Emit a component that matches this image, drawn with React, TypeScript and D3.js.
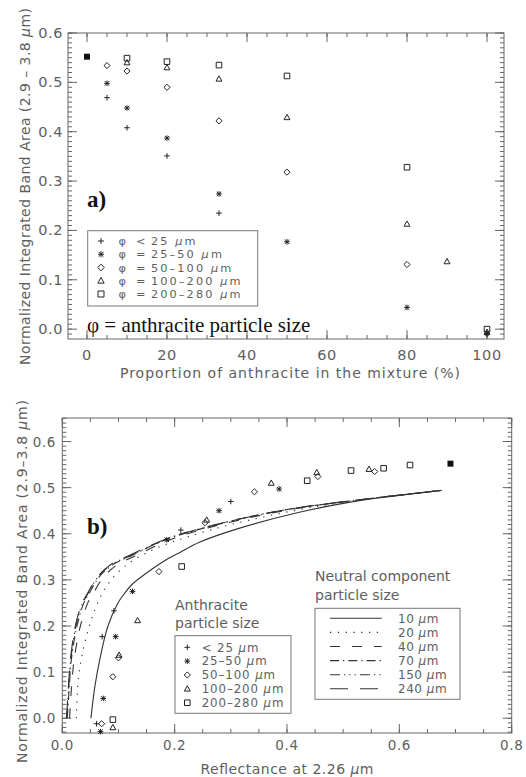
import React from "react";
import * as d3 from "d3";

const W = 526;
const H = 777;

// ---- panel a: band area vs proportion of anthracite (%)
const aPure = [[0, 0.552]];
const aPlus = [[5, 0.469], [10, 0.408], [20, 0.351], [33, 0.235], [100, -0.01]];
const aStar = [[5, 0.498], [10, 0.448], [20, 0.387], [33, 0.274], [50, 0.177], [80, 0.044], [100, -0.009]];
const aDiamond = [[5, 0.534], [10, 0.523], [20, 0.49], [33, 0.422], [50, 0.318], [80, 0.131]];
const aTriangle = [[10, 0.54], [20, 0.53], [33, 0.507], [50, 0.429], [80, 0.213], [90, 0.137], [100, -0.006]];
const aSquare = [[10, 0.549], [20, 0.542], [33, 0.535], [50, 0.513], [80, 0.328], [100, 0.0]];

const aXTicks = [0, 20, 40, 60, 80, 100];
const aYTicks = [0, 0.1, 0.2, 0.3, 0.4, 0.5, 0.6];
const aLegend = [
  { sym: "plus", op: "<", val: "25" },
  { sym: "star", op: "=", val: "25\u201350" },
  { sym: "diamond", op: "=", val: "50\u2013100" },
  { sym: "triangle", op: "=", val: "100\u2013200" },
  { sym: "square", op: "=", val: "200\u2013280" },
];

// ---- panel b: band area vs reflectance at 2.26 um
const bPure = [[0.691, 0.552]];
const bPlus = [[0.3, 0.47], [0.211, 0.408], [0.092, 0.233], [0.071, 0.177], [0.061, -0.012]];
const bStar = [[0.386, 0.497], [0.279, 0.45], [0.186, 0.387], [0.125, 0.275], [0.095, 0.177], [0.073, 0.043], [0.068, -0.029]];
const bDiamond = [[0.556, 0.535], [0.455, 0.524], [0.342, 0.491], [0.254, 0.424], [0.172, 0.318], [0.1, 0.131], [0.09, 0.09], [0.07, -0.012]];
const bTriangle = [[0.546, 0.54], [0.453, 0.533], [0.372, 0.51], [0.257, 0.43], [0.134, 0.212], [0.101, 0.137], [0.09, -0.02]];
const bSquare = [[0.619, 0.549], [0.572, 0.542], [0.514, 0.537], [0.436, 0.515], [0.2125, 0.329], [0.09, -0.003]];

// model curves, neutral component particle size
const c10 = [[0.051, 0.0], [0.058, 0.069], [0.0665, 0.126], [0.081, 0.199], [0.099, 0.25], [0.111, 0.271], [0.124, 0.29], [0.15, 0.315], [0.18, 0.34], [0.21, 0.36], [0.245, 0.382], [0.31, 0.41], [0.42, 0.446], [0.51, 0.468], [0.6, 0.483], [0.675, 0.494]];
const c20 = [[0.025, 0.0], [0.029, 0.09], [0.04, 0.163], [0.058, 0.235], [0.078, 0.285], [0.102, 0.32], [0.13, 0.345], [0.17, 0.37], [0.22, 0.392], [0.3, 0.42], [0.42, 0.452], [0.51, 0.47], [0.6, 0.484], [0.675, 0.494]];
const c40 = [[0.013, 0.0], [0.016, 0.06], [0.021, 0.126], [0.032, 0.199], [0.045, 0.249], [0.055, 0.271], [0.074, 0.307], [0.098, 0.333], [0.13, 0.352], [0.19, 0.386], [0.245, 0.408], [0.334, 0.435], [0.423, 0.456], [0.512, 0.471], [0.601, 0.484], [0.675, 0.494]];
const c70 = [[0.009, 0.0], [0.012, 0.06], [0.016, 0.126], [0.026, 0.199], [0.038, 0.249], [0.048, 0.271], [0.066, 0.307], [0.09, 0.333], [0.122, 0.352], [0.186, 0.388], [0.245, 0.41], [0.334, 0.437], [0.423, 0.457], [0.512, 0.471], [0.601, 0.484], [0.675, 0.494]];
const c150 = [[0.008, 0.0], [0.011, 0.06], [0.015, 0.126], [0.024, 0.199], [0.036, 0.249], [0.046, 0.271], [0.064, 0.307], [0.087, 0.333], [0.12, 0.352], [0.186, 0.389], [0.245, 0.411], [0.334, 0.437], [0.423, 0.457], [0.512, 0.471], [0.601, 0.484], [0.675, 0.494]];
const c240 = [[0.0075, 0.0], [0.0105, 0.06], [0.0145, 0.126], [0.023, 0.199], [0.035, 0.249], [0.045, 0.271], [0.063, 0.307], [0.086, 0.333], [0.119, 0.353], [0.186, 0.389], [0.245, 0.411], [0.334, 0.437], [0.423, 0.457], [0.512, 0.471], [0.601, 0.484], [0.675, 0.494]];

const bXTicks = [0, 0.2, 0.4, 0.6, 0.8];
const bYTicks = [0, 0.1, 0.2, 0.3, 0.4, 0.5, 0.6];
const bLegend = [
  { sym: "plus", label: "< 25" },
  { sym: "star", label: "25\u201350" },
  { sym: "diamond", label: "50\u2013100" },
  { sym: "triangle", label: "100\u2013200" },
  { sym: "square", label: "200\u2013280" },
];
const curveLegend = [
  { label: "10", data: c10, dash: "none" },
  { label: "20", data: c20, dash: "1.3,6.5" },
  { label: "40", data: c40, dash: "10,12" },
  { label: "70", data: c70, dash: "9,4,1.3,4" },
  { label: "150", data: c150, dash: "10,4,1.3,4,1.3,4,1.3,4" },
  { label: "240", data: c240, dash: "18,12" },
];

const GRAY = "#5e5e5e";
const INK = "#222";
const FONT = "DejaVu Sans, sans-serif";

function symPath(type: string, x: number, y: number, s: number) {
  if (type === "plus") return `M${x - s},${y}H${x + s}M${x},${y - s}V${y + s}`;
  if (type === "star") {
    const d = s * 0.8;
    return `M${x - s},${y}H${x + s}M${x},${y - s}V${y + s}M${x - d},${y - d}L${x + d},${y + d}M${x - d},${y + d}L${x + d},${y - d}`;
  }
  if (type === "diamond") return `M${x},${y - s * 1.1}L${x + s * 1.1},${y}L${x},${y + s * 1.1}L${x - s * 1.1},${y}Z`;
  if (type === "triangle") return `M${x},${y - s * 1.1}L${x + s * 1.05},${y + s * 0.8}L${x - s * 1.05},${y + s * 0.8}Z`;
  return `M${x - s},${y - s}H${x + s}V${y + s}H${x - s}Z`;
}

function Frame({ x, y, xMinor, yMinor, xTicks, yTicks, fmtX, tickFont, xLabelY, yLabelX }: any) {
  const [x0, x1] = x.range();
  const [y0, y1] = y.range(); // y0 bottom, y1 top
  const els: any[] = [];
  xMinor.forEach((v: number, i: number) => {
    const px = x(v);
    els.push(<line key={"xm" + i} x1={px} x2={px} y1={y0} y2={y0 - 4} />);
    els.push(<line key={"xmt" + i} x1={px} x2={px} y1={y1} y2={y1 + 4} />);
  });
  xTicks.forEach((v: number, i: number) => {
    const px = x(v);
    els.push(<line key={"xM" + i} x1={px} x2={px} y1={y0} y2={y0 - 9} />);
    els.push(<line key={"xMt" + i} x1={px} x2={px} y1={y1} y2={y1 + 9} />);
  });
  yMinor.forEach((v: number, i: number) => {
    const py = y(v);
    els.push(<line key={"ym" + i} x1={x0} x2={x0 + 4} y1={py} y2={py} />);
    els.push(<line key={"ymr" + i} x1={x1} x2={x1 - 4} y1={py} y2={py} />);
  });
  yTicks.forEach((v: number, i: number) => {
    const py = y(v);
    els.push(<line key={"yM" + i} x1={x0} x2={x0 + 9} y1={py} y2={py} />);
    els.push(<line key={"yMr" + i} x1={x1} x2={x1 - 9} y1={py} y2={py} />);
  });
  return (
    <g>
      <g stroke="#666" strokeWidth={1}>
        <rect x={x0} y={y1} width={x1 - x0} height={y0 - y1} fill="none" />
        {els}
      </g>
      <g fill={GRAY} fontFamily={FONT} fontSize={tickFont} letterSpacing={0.6}>
        {xTicks.map((v: number, i: number) => (
          <text key={"xl" + i} x={x(v)} y={xLabelY} textAnchor="middle">{fmtX(v)}</text>
        ))}
        {yTicks.map((v: number, i: number) => (
          <text key={"yl" + i} x={yLabelX} y={y(v) + 5} textAnchor="end">{d3.format(".1f")(v)}</text>
        ))}
      </g>
    </g>
  );
}

function Marks({ data, sym, x, y, s }: any) {
  return (
    <g fill="none" stroke={INK} strokeWidth={1}>
      {data.map((d: number[], i: number) => (
        <path key={i} d={symPath(sym, x(d[0]), y(d[1]), s)} />
      ))}
    </g>
  );
}

const Mu = () => <tspan fontStyle="italic">μ</tspan>;

export default function App() {
  // panel a scales
  const xa = d3.scaleLinear().domain([-4.75, 104.25]).range([68, 504]);
  const ya = d3.scaleLinear().domain([-0.02, 0.6]).range([339, 33]);
  // panel b scales
  const xb = d3.scaleLinear().domain([0, 0.8]).range([62.3, 511.7]);
  const yb = d3.scaleLinear().domain([-0.032, 0.651]).range([733, 418]);

  const line = d3
    .line<number[]>()
    .x((d) => xb(d[0]))
    .y((d) => yb(d[1]))
    .curve(d3.curveCatmullRom.alpha(0.5));

  const aSeries = [
    { data: aPlus, sym: "plus" },
    { data: aStar, sym: "star" },
    { data: aDiamond, sym: "diamond" },
    { data: aTriangle, sym: "triangle" },
    { data: aSquare, sym: "square" },
  ];
  const bSeries = [
    { data: bPlus, sym: "plus" },
    { data: bStar, sym: "star" },
    { data: bDiamond, sym: "diamond" },
    { data: bTriangle, sym: "triangle" },
    { data: bSquare, sym: "square" },
  ];

  const legARow = (i: number) => 241 + i * 13.25;
  const legBRow = (i: number) => 647.3 + i * 13.85;
  const legCRow = (i: number) => 618.3 + i * 14.1;

  return (
    <svg width={W} height={H} style={{ position: "absolute", left: 0, top: 0, background: "#fff" }}>
      <rect width={W} height={H} fill="#fff" />

      {/* ---------- panel a ---------- */}
      <Frame
        x={xa}
        y={ya}
        xMinor={d3.range(0, 101, 5)}
        yMinor={d3.range(-0.01, 0.6001, 0.01)}
        xTicks={aXTicks}
        yTicks={aYTicks}
        fmtX={(v: number) => String(v)}
        tickFont={14.5}
        xLabelY={360}
        yLabelX={63}
      />
      <text x={290} y={378} textAnchor="middle" fill={GRAY} fontFamily={FONT} fontSize={14} textLength={340}>
        Proportion of anthracite in the mixture (%)
      </text>
      <text
        transform="translate(30,186.5) rotate(-90)"
        textAnchor="middle"
        fill={GRAY}
        fontFamily={FONT}
        fontSize={14}
        textLength={357}
      >
        Normalized Integrated Band Area  (2.9 – 3.8 <Mu />m)
      </text>
      {aSeries.map((s, i) => (
        <Marks key={i} data={s.data} sym={s.sym} x={xa} y={ya} s={2.8} />
      ))}
      {aPure.map((d, i) => (
        <rect key={i} x={xa(d[0]) - 3} y={ya(d[1]) - 3} width={6} height={6} fill="#111" />
      ))}
      <text x={87} y={207} fontFamily="Liberation Serif, serif" fontWeight="bold" fontSize={23} fill="#111">
        a)
      </text>
      <rect x={87.7} y={230.7} width={170} height={75.3} fill="#fff" stroke="#777" strokeWidth={1} />
      {aLegend.map((l, i) => (
        <g key={i} fill={GRAY} fontFamily={FONT} fontSize={11.3}>
          <path d={symPath(l.sym, 101, legARow(i), 3)} fill="none" stroke={INK} strokeWidth={1} />
          <text x={118.5} y={legARow(i) + 4}>φ</text>
          <text x={136} y={legARow(i) + 4}>{l.op}</text>
          <text x={151} y={legARow(i) + 4} letterSpacing={2.1}>
            {l.val} <Mu />m
          </text>
        </g>
      ))}
      <text x={87} y={332} fontFamily="Liberation Serif, serif" fontSize={21} fill="#111">
        φ = anthracite particle size
      </text>

      {/* ---------- panel b ---------- */}
      <Frame
        x={xb}
        y={yb}
        xMinor={d3.range(0, 0.8001, 0.05)}
        yMinor={d3.range(-0.03, 0.6501, 0.01)}
        xTicks={bXTicks}
        yTicks={bYTicks}
        fmtX={d3.format(".1f")}
        tickFont={13.5}
        xLabelY={750}
        yLabelX={56}
      />
      <text x={287} y={774} textAnchor="middle" fill={GRAY} fontFamily={FONT} fontSize={14} textLength={173}>
        Reflectance at 2.26 <Mu />m
      </text>
      <text
        transform="translate(27,581.5) rotate(-90)"
        textAnchor="middle"
        fill={GRAY}
        fontFamily={FONT}
        fontSize={14}
        textLength={363}
      >
        Normalized Integrated Band Area (2.9–3.8 <Mu />m)
      </text>

      <g fill="none" stroke="#333" strokeWidth={1.1}>
        {curveLegend.map((c, i) => (
          <path key={i} d={line(c.data as number[][]) || ""} strokeDasharray={c.dash} />
        ))}
      </g>
      {bSeries.map((s, i) => (
        <Marks key={i} data={s.data} sym={s.sym} x={xb} y={yb} s={2.8} />
      ))}
      {bPure.map((d, i) => (
        <rect key={i} x={xb(d[0]) - 3} y={yb(d[1]) - 3} width={6} height={6} fill="#111" />
      ))}
      <text x={87} y={534} fontFamily="Liberation Serif, serif" fontWeight="bold" fontSize={23} fill="#111">
        b)
      </text>

      {/* anthracite legend */}
      <g fill={GRAY} fontFamily={FONT} fontSize={14}>
        <text x={175} y={609.5}>Anthracite</text>
        <text x={175} y={628}>particle size</text>
      </g>
      <rect x={175} y={635.7} width={116} height={77.6} fill="#fff" stroke="#777" strokeWidth={1} />
      {bLegend.map((l, i) => (
        <g key={i}>
          <path d={symPath(l.sym, 187.3, legBRow(i), 2.8)} fill="none" stroke={INK} strokeWidth={1} />
          <text x={201.7} y={legBRow(i) + 4.2} fill={GRAY} fontFamily={FONT} fontSize={11.8} letterSpacing={0.9}>
            {l.label} <Mu />m
          </text>
        </g>
      ))}

      {/* neutral component legend */}
      <g fill={GRAY} fontFamily={FONT} fontSize={14}>
        <text x={315} y={581}>Neutral component</text>
        <text x={315} y={599.5}>particle size</text>
      </g>
      <rect x={315} y={608.3} width={145} height={91} fill="#fff" stroke="#777" strokeWidth={1} />
      {curveLegend.map((c, i) => (
        <g key={i}>
          <line x1={330} x2={381.7} y1={legCRow(i)} y2={legCRow(i)} stroke="#333" strokeWidth={1.1} strokeDasharray={c.dash} />
          <text x={398} y={legCRow(i) + 4.2} fill={GRAY} fontFamily={FONT} fontSize={12} letterSpacing={0.5}>
            {c.label} <Mu />m
          </text>
        </g>
      ))}
    </svg>
  );
}
